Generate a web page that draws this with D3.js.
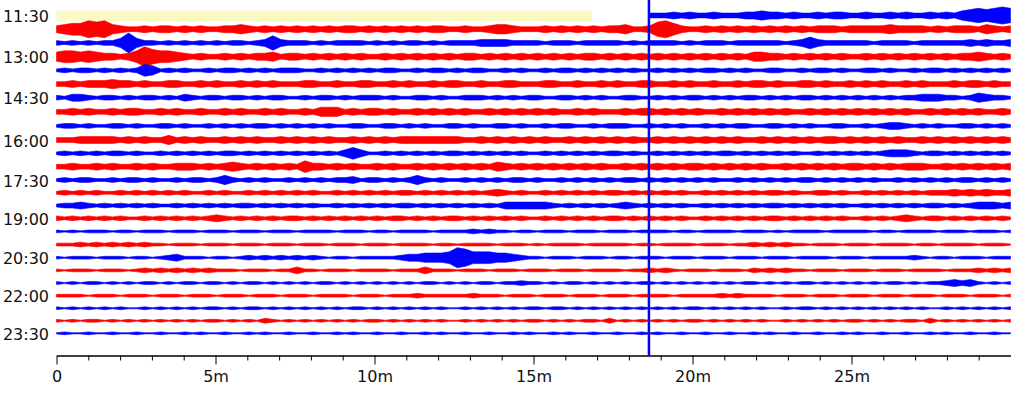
<!DOCTYPE html>
<html><head><meta charset="utf-8">
<script src="https://cdn.jsdelivr.net/npm/d3@7/dist/d3.min.js"></script>
<style>html,body{margin:0;padding:0;background:#fff}svg{display:block}text{font-family:"DejaVu Sans",sans-serif}</style>
</head><body><svg id="c" width="1024" height="396"></svg>
<script>
// ---- data ----
const rowTimes = ["11:30","12:00","12:30","13:00","13:30","14:00","14:30","15:00","15:30","16:00","16:30","17:00","17:30","18:00","18:30","19:00","19:30","20:00","20:30","21:00","21:30","22:00","22:30","23:00","23:30"];
const labelledRows = [0,3,6,9,12,15,18,21,24];
const minorTicks = [1,2,3,4,6,7,8,9,11,12,13,14,16,17,18,19,21,22,23,24,26,27,28,29];
const majorTicks = [0,5,10,15,20,25];
const majorTickLabels = ["0","5m","10m","15m","20m","25m"];
const rowMinutes = 30;
const gapEndMinute = 16.84;   // highlighted no-data span in first row
const markerMinute = 18.63;   // current-time marker
// envelope (half amplitude level, 0-9) every ~15 s; "." = no data
const envelopes = [
".......... .......... .......... .......... .......... .......... .......... ....333434 3343334454 4343343443 3433434334 3435676787",
"4566878543 3434434343 3445434343 4343434434 3434343443 3433455433 3434343434 4533478643 3434343434 3434344434 4444544443 4344435434",
"3232323359 5332323232 3233234743 3323233332 3232332323 3334444333 3233323333 3232333323 2333233333 3234643333 3323333233 3333434334",
"5665654434 6976654343 3434344534 4343434343 3434343434 3443434343 4343434434 3434343434 3434343554 4343434343 3434343434 3434454343",
"2323323232 3652323223 2332323233 3223232323 2332232332 3233223232 2323323232 3232232323 2332323223 3223233232 2332322323 3232323232",
"3343444544 3433443343 4334343433 3443343344 3343433434 4334334433 3443343343 4334433434 3343343443 4334434334 3434334343 3343443433",
"3244323323 2332324323 3233232332 2323323233 3232233232 2333232323 3223323232 2332232323 3232323323 2323323232 3232323344 4332354332",
"3343433434 4334343343 3434334343 3435553434 4343343434 3433434343 4343343433 3434434343 4334343434 3433434343 4343434334 3434343343",
"2332322332 3223323223 2323233232 3232322332 2332323223 3232233232 2323322323 3322323232 2323233223 3232322332 2323443232 3223323232",
"3334444434 3433534343 3434343343 4343433434 3434444444 4334343434 3433434343 4343343434 3434343343 4343434434 3434343343 4343434343",
"2323232332 3223232323 2332323232 3232324642 2323232323 3232323232 2323232323 3232232323 2323323232 3232232323 2323444323 3232323232",
"3343343433 4343344434 3454343434 3644343433 4343343434 3434354343 4343434343 3434343434 4343434343 3434343434 4343434443 3434343434",
"2323322323 3232232332 3532323223 2323233423 3232353232 2323232332 3223232323 2332323232 3232232323 2323323232 3232232323 2323323232",
"2323232232 3232323223 2322323232 3232232323 2323323232 3232343232 2323232323 3232323232 2323232323 3232233232 2323232323 3343434334",
"2334323232 3232232323 2323323232 3232232323 2323323232 3232324444 4432323232 3432323232 2323232323 3232323232 2323232323 3232344434",
"3232323232 2323232323 4323232323 3232323232 3233232323 3232323232 2323232323 3232323232 2323232323 3232323232 2323234323 3232323232",
"2121222122 1222122212 2212221222 1222212221 2212222122 2232322122 1222122212 2212222122 1222212221 2122221222 2212212222 1222122212",
"2223232323 2322122212 2212221222 1222122212 2212222122 1222212221 2122221222 2212212222 1222122323 2322122212 2212222122 1222212221",
"2122212221 2212342221 2212323232 3232122122 2223445556 9866655432 2122212221 2212221222 1222122212 2212222122 2122222321 2212221222",
"2122212221 2323232323 2221222122 4221222122 2212224222 1222122212 2212221222 2122323212 2212221323 2322122212 2212221222 2122232323",
"2121221212 1221212212 2121221212 1212212121 2121212212 1212212232 2121221212 1212212121 2121212212 1212212121 2121221212 2343421212",
"2222122212 2212221222 1222122212 2212222122 2122232222 2232221222 1222122212 2212222122 2223232222 1222122212 2212221222 1222122212",
"2121212121 1212121212 2121221212 1212121221 2121212121 1212121212 2122121212 1212121212 2121212121 1212212121 2121212121 1212121212",
"2121221212 1212121212 2121213212 1212121212 2121212121 1212121212 2121212213 1212121212 2121212121 1212121212 2121212213 1212121212",
"1211211211 2112112121 1211212112 1121121211 2112112121 1211211212 1121211211 2112121121 1211211212 1121121121 2112112112 1211211211"
];

// ---- chart ----
const svg = d3.select("#c");
svg.append("rect").attr("width",1024).attr("height",396).attr("fill","#fff");

const x = d3.scaleLinear().domain([0, rowMinutes]).range([56.5, 1010.5]);
const yRow = d3.scaleLinear().domain([0,3,6,9,12,15,18,21,24])
  .range([15.5,56.7,97.7,140,180,218.3,257.7,295.7,333.3]);
const amp = d3.scalePow().exponent(1.3).domain([0,9]).range([0,10]);
const colour = d3.scaleOrdinal().domain([0,1]).range(["#0000ff","#ff0000"]);

// no-data highlight in first row
svg.append("rect")
  .attr("x", x(0)).attr("width", x(gapEndMinute)-x(0))
  .attr("y", yRow(0)-4.8).attr("height", 10.4)
  .attr("fill", "#fbf9c4");

const series = envelopes.map((s,r) => {
  const chars = s.replace(/ /g,"").split("");
  const n = chars.length;
  return chars.map((c,i) => ({r, m: i*rowMinutes/(n-1), v: c === "." ? null : +c}));
});

const area = d3.area()
  .defined(d => d.v !== null)
  .x(d => x(d.m))
  .y0(d => yRow(d.r) - amp(d.v))
  .y1(d => yRow(d.r) + amp(d.v));

svg.append("g").selectAll("path").data(series).join("path")
  .attr("d", area)
  .attr("fill", (d,i) => colour(i % 2))
  .attr("stroke", (d,i) => colour(i % 2))
  .attr("stroke-width", 0.6);

// time labels
svg.append("g").selectAll("text").data(labelledRows).join("text")
  .attr("x", 49).attr("y", r => yRow(r) + 6.5)
  .attr("text-anchor","end").attr("font-size",16).attr("fill","#111")
  .text(r => rowTimes[r]);

// current-time marker
svg.append("line")
  .attr("x1", x(markerMinute)).attr("x2", x(markerMinute))
  .attr("y1", 0).attr("y2", 355.5)
  .attr("stroke","#0000ff").attr("stroke-width",2.5);

// x axis
const axisY = 355.5;
const gMinor = svg.append("g").attr("transform",`translate(0,${axisY})`)
  .call(d3.axisBottom(x).tickValues(minorTicks).tickSize(5).tickSizeOuter(0).tickFormat(""));
const gMajor = svg.append("g").attr("transform",`translate(0,${axisY})`)
  .call(d3.axisBottom(x).tickValues(majorTicks).tickSize(9).tickSizeOuter(0).tickPadding(6)
    .tickFormat((d,i) => majorTickLabels[i]));
[gMinor,gMajor].forEach(g => {
  g.selectAll("path,line").attr("stroke","#000").attr("stroke-width",1);
  g.selectAll("text").attr("font-size",16).attr("fill","#111").attr("font-family","DejaVu Sans, sans-serif");
});
</script>
</body></html>
